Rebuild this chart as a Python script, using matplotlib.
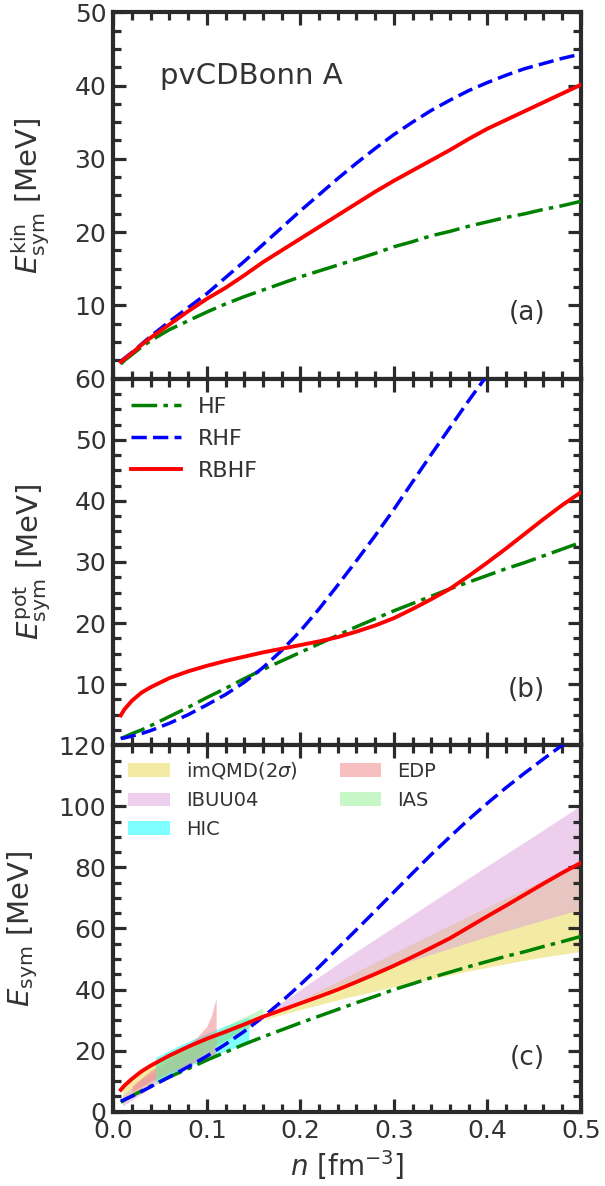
import matplotlib
matplotlib.use("Agg")
import matplotlib.pyplot as plt
from matplotlib.ticker import MultipleLocator, FuncFormatter

# density grid [fm^-3]
N = [0.008, 0.012, 0.02, 0.03, 0.04, 0.06, 0.08, 0.10, 0.12, 0.14, 0.16, 0.18, 0.20,
     0.22, 0.24, 0.26, 0.28, 0.30, 0.32, 0.34, 0.36, 0.38, 0.40, 0.42, 0.44, 0.46,
     0.48, 0.50]

# kinetic part (panel a)
KIN_HF = [2.0, 2.5, 3.3, 4.3, 5.2, 6.7, 7.9, 9.1, 10.2, 11.2, 12.1, 13.0, 13.9,
          14.7, 15.5, 16.3, 17.1, 18.0, 18.7, 19.5, 20.1, 20.8, 21.4, 22.0, 22.5, 23.1,
          23.6, 24.2]
KIN_RHF = [2.4, 2.8, 3.6, 4.7, 5.8, 7.8, 9.7, 11.6, 13.8, 16.0, 18.3, 20.6, 22.9,
           25.1, 27.3, 29.4, 31.4, 33.3, 35.0, 36.6, 38.0, 39.3, 40.4, 41.4, 42.3, 43.0,
           43.7, 44.3]
KIN_RBHF = [2.3, 2.7, 3.5, 4.6, 5.6, 7.4, 9.2, 10.9, 12.4, 14.1, 15.9, 17.5, 19.1,
            20.7, 22.3, 23.9, 25.5, 27.0, 28.4, 29.8, 31.2, 32.7, 34.1, 35.3, 36.5, 37.7,
            38.9, 40.1]

# potential part (panel b)
POT_HF = [1.1, 1.35, 1.9, 2.5, 3.2, 4.7, 6.2, 7.8, 9.3, 10.9, 12.4, 13.8, 15.2,
          16.6, 18.0, 19.4, 20.7, 22.0, 23.2, 24.4, 25.6, 26.7, 27.8, 28.9, 29.9, 31.0,
          32.1, 33.2]
POT_RHF = [1.1, 1.2, 1.5, 1.9, 2.4, 3.6, 5.0, 6.6, 8.3, 10.3, 12.7, 15.5, 18.7,
           22.3, 26.2, 30.2, 34.3, 38.6, 43.1, 47.6, 52.0, 56.4, 60.6, 64.7, 68.6, 72.5,
           76.3, 80.0]
POT_RBHF = [4.9, 5.9, 7.3, 8.6, 9.5, 11.0, 12.1, 13.0, 13.8, 14.5, 15.2, 15.8, 16.4,
            17.0, 17.7, 18.6, 19.6, 20.8, 22.3, 23.9, 25.6, 27.7, 29.9, 32.2, 34.6, 37.0,
            39.3, 41.4]

# constraint bands (panel c)
QMD_N = [0.01, 0.03, 0.05, 0.08, 0.10, 0.13, 0.16, 0.20, 0.25, 0.30, 0.35, 0.40, 0.45, 0.50]
QMD_LO = [3.1, 7.4, 11.3, 16.7, 20.1, 25.2, 30.1, 33.5, 37.4, 40.9, 44.2, 47.3, 50.2, 52.5]
QMD_HI = [8.6, 13.9, 17.5, 21.7, 24.1, 27.3, 30.1, 36.5, 44.3, 52.0, 59.6, 67.0, 74.4, 81.7]

IBUU_N = [0.01, 0.03, 0.05, 0.08, 0.10, 0.13, 0.16, 0.20, 0.25, 0.30, 0.35, 0.40, 0.45, 0.50]
IBUU_LO = [1.9, 5.8, 9.8, 15.7, 19.7, 25.6, 31.6, 36.5, 42.3, 47.6, 52.5, 57.4, 61.9, 66.3]
IBUU_HI = [5.2, 10.6, 14.8, 20.1, 23.3, 27.6, 31.6, 40.0, 50.5, 60.5, 70.5, 80.5, 90.3, 100.3]

HIC_N = [0.045, 0.07, 0.10, 0.125, 0.145]
HIC_LO = [9.8, 13.5, 17.5, 20.5, 22.5]
HIC_HI = [17.8, 21.6, 25.7, 28.8, 31.0]

EDP_N = [0.02, 0.04, 0.06, 0.08, 0.09, 0.10, 0.105, 0.11]
EDP_LO = [6.5, 10.0, 12.8, 15.3, 16.4, 17.3, 17.7, 18.1]
EDP_HI = [8.5, 13.5, 17.5, 22.0, 24.5, 28.0, 31.5, 37.3]

IAS_N = [0.045, 0.07, 0.10, 0.13, 0.16]
IAS_LO = [10.0, 14.5, 19.5, 25.0, 30.7]
IAS_HI = [15.5, 19.5, 24.5, 29.5, 34.0]

# total = kinetic + potential
TOT_HF = [a + b for a, b in zip(KIN_HF, POT_HF)]
TOT_RHF = [a + b for a, b in zip(KIN_RHF, POT_RHF)]
TOT_RBHF = [a + b for a, b in zip(KIN_RBHF, POT_RBHF)]

DARK = "#333333"
plt.rcParams.update({
    "font.family": "DejaVu Sans",
    "mathtext.fontset": "dejavusans",
    "text.color": DARK,
    "axes.labelcolor": DARK,
    "xtick.color": DARK,
    "ytick.color": DARK,
    "axes.edgecolor": "#2b2b2b",
    "axes.linewidth": 3.0,
})

fig, axes = plt.subplots(3, 1, sharex=True, figsize=(6.05, 11.86), dpi=100)
fig.subplots_adjust(left=0.1873, right=0.960, bottom=0.0626, top=0.9897, hspace=0)
ax_a, ax_b, ax_c = axes

# label, colour, linestyle, linewidth
styles = [("HF", "green", (0, (7.4, 1.8, 1.3, 1.8)), 2.5),
          ("RHF", "blue", (0, (4.4, 1.8)), 2.5),
          ("RBHF", "red", "-", 2.8)]

for ax, curves in [(ax_a, [KIN_HF, KIN_RHF, KIN_RBHF]),
                   (ax_b, [POT_HF, POT_RHF, POT_RBHF]),
                   (ax_c, [TOT_HF, TOT_RHF, TOT_RBHF])]:
    for (lbl, col, ls, lw), y in zip(styles, curves):
        ax.plot(N, y, color=col, ls=ls, lw=lw, label=lbl, zorder=5)

# bands
ax_c.fill_between(QMD_N, QMD_LO, QMD_HI, color="khaki", alpha=0.8, lw=0, label=r"imQMD$(2\sigma)$")
ax_c.fill_between(IBUU_N, IBUU_LO, IBUU_HI, color="plum", alpha=0.5, lw=0, label="IBUU04")
ax_c.fill_between(HIC_N, HIC_LO, HIC_HI, color="cyan", alpha=0.5, lw=0, label="HIC")
ax_c.fill_between(EDP_N, EDP_LO, EDP_HI, color="lightcoral", alpha=0.5, lw=0, label="EDP")
ax_c.fill_between(IAS_N, IAS_LO, IAS_HI, color="lightgreen", alpha=0.5, lw=0, label="IAS")

ax_a.set_ylim(0, 50)
ax_b.set_ylim(0, 60)
ax_c.set_ylim(0, 120)
ax_c.set_xlim(0, 0.5)

ax_a.yaxis.set_major_locator(MultipleLocator(10))
ax_a.yaxis.set_minor_locator(MultipleLocator(2.5))
ax_b.yaxis.set_major_locator(MultipleLocator(10))
ax_b.yaxis.set_minor_locator(MultipleLocator(2.5))
ax_c.yaxis.set_major_locator(MultipleLocator(20))
ax_c.yaxis.set_minor_locator(MultipleLocator(5))
ax_c.xaxis.set_major_locator(MultipleLocator(0.1))
ax_c.xaxis.set_minor_locator(MultipleLocator(0.02))

for ax in axes:
    ax.tick_params(which="both", direction="in", top=True, right=True, width=2.3,
                   color="#2b2b2b")
    ax.tick_params(which="major", length=9.5, labelsize=18, pad=5)
    ax.tick_params(which="minor", length=5.5)

# the upper panels drop their "0" so the panel below shows its top label
no_zero = FuncFormatter(lambda v, pos: "" if abs(v) < 1e-9 else f"{v:g}")
for ax in (ax_a, ax_b):
    ax.yaxis.set_major_formatter(no_zero)
    ax.tick_params(labelbottom=False)

ax_a.set_ylabel(r"$E_{\rm sym}^{\rm kin}$ [MeV]", fontsize=21)
ax_b.set_ylabel(r"$E_{\rm sym}^{\rm pot}$ [MeV]", fontsize=21)
ax_c.set_ylabel(r"$E_{\rm sym}$ [MeV]", fontsize=21)
ax_c.set_xlabel(r"$n$ [fm$^{-3}$]", fontsize=20)
ax_a.yaxis.set_label_coords(-0.131, 0.5)
ax_b.yaxis.set_label_coords(-0.131, 0.5)
ax_c.yaxis.set_label_coords(-0.157, 0.5)

ax_a.text(0.1, 0.827, "pvCDBonn A", transform=ax_a.transAxes, fontsize=21, va="center")
ax_a.text(0.924, 0.178, "(a)", transform=ax_a.transAxes, fontsize=19, ha="right", va="center")
ax_b.text(0.924, 0.151, "(b)", transform=ax_b.transAxes, fontsize=19, ha="right", va="center")
ax_c.text(0.924, 0.148, "(c)", transform=ax_c.transAxes, fontsize=19, ha="right", va="center")

ax_b.legend(loc="upper left", frameon=False, fontsize=16, handlelength=2.23,
            handletextpad=0.78, labelspacing=0.55, borderaxespad=0.4)

h, l = ax_c.get_legend_handles_labels()
ax_c.legend(h[3:], l[3:], loc="upper left", ncol=2, frameon=False, fontsize=14,
            handlelength=2.15, handletextpad=0.8, labelspacing=0.5,
            columnspacing=2.15, borderaxespad=0.38)

fig.savefig("out.png", dpi=100)
